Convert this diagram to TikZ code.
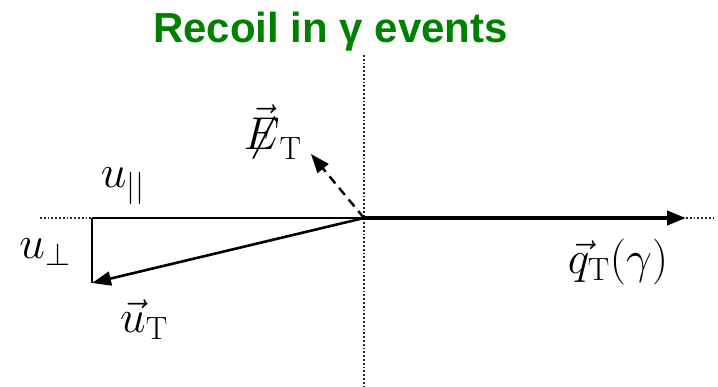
\RequirePackage{fix-cm}
\documentclass[tikz,border=0pt]{standalone}
\usepackage{fontspec}
\usetikzlibrary{arrows.meta}
\newfontfamily\titlefont{Liberation Sans}
\definecolor{titlegreen}{RGB}{0,128,0}
\begin{document}
\begin{tikzpicture}[x=1pt,y=-1pt,
  axisline/.style={line width=1.8pt,dotted,black!85},
  thinline/.style={line width=1.6pt},
  vecarrow/.style={line width=2.6pt,-{Triangle[length=19pt,width=14pt]}},
  bigarrow/.style={line width=4pt,-{Triangle[length=19pt,width=14pt]}},
  dasharrow/.style={line width=2.4pt,dash pattern=on 9pt off 6pt,-{Triangle[length=19pt,width=14pt]}},
  mathlabel/.style={inner sep=0pt,font=\fontsize{46}{52}\selectfont}]
\useasboundingbox (0,0) rectangle (718,386);
\node[anchor=base,inner sep=0pt,text=titlegreen,font=\fontsize{42}{48}\titlefont\bfseries] (title) at (330.5,42) {Recoil in γ events};
\coordinate (O) at (364,218);
\coordinate (vtop) at (364,55);
\coordinate (vbot) at (364,386);
\coordinate (hl) at (40,218);
\coordinate (hr) at (716,218);
\coordinate (corner) at (92,218);
\coordinate (uT) at (92,283);
\coordinate (qT) at (686,218);
\coordinate (ET) at (311,154);
\draw[axisline] (vtop) -- (vbot);
\draw[axisline] (hl) -- (corner);
\draw[axisline] (qT) -- (hr);
\draw[thinline] (corner) -- (O);
\draw[thinline] (corner) -- (uT);
\draw[bigarrow] (O) -- (qT);
\draw[vecarrow] (O) -- (uT);
\draw[dasharrow] (O) -- (ET);
\node[mathlabel] (lpar) at (123,186) {$u_{||}$};
\node[mathlabel] (lperp) at (45,252) {$u_\perp$};
\node[mathlabel] (luT) at (144,320) {$\vec{u}_{\mathrm{T}}$};
\node[mathlabel] (lqT) at (618,262) {$\vec{q}_{\mathrm{T}}(\gamma)$};
\node[mathlabel] (lET) at (274,132) {$\vec{\not\!\!E}_{\mathrm{T}}$};
\end{tikzpicture}
\end{document}
